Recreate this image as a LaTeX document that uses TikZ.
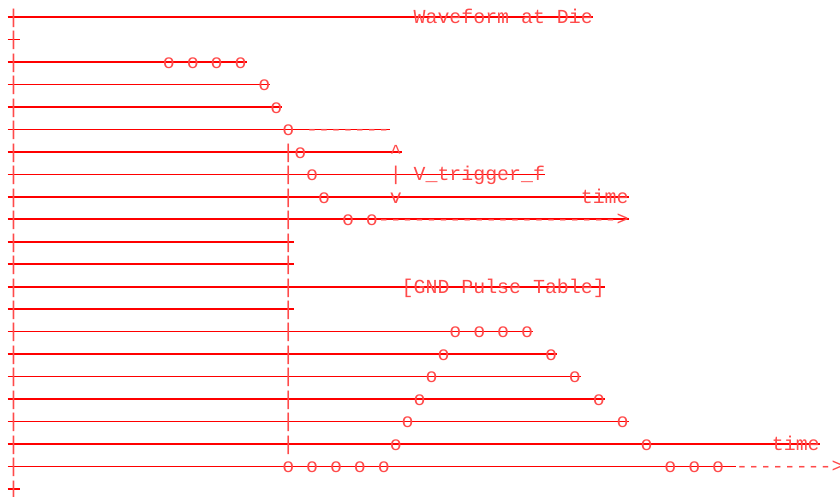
\documentclass[tikz,border=0pt]{standalone}
\usepackage{fontspec}
\setmonofont{Liberation Mono}
\definecolor{Wire}{HTML}{FF0000}
\definecolor{GlyphInk}{HTML}{FF4A4A}
\newcommand{\asciisize}{\ttfamily\fontsize{19.9pt}{22pt}\selectfont}

\begin{document}
\begin{tikzpicture}[x=11.94pt,y=-22.476pt,every node/.style={font=\asciisize,text=GlyphInk,inner sep=0pt,outer sep=0pt,anchor=base west,yshift=-6.3pt},rowline/.style={draw=Wire,line width=1.6pt}]
\useasboundingbox (-7.7pt,17pt) rectangle (832.3pt,-480pt);

\foreach \r/\len in {0/49,1/1,2/20,3/22,4/23,5/32,6/33,7/45,8/52,9/52,10/24,11/24,12/50,13/24,14/44,15/46,16/48,17/50,18/52,19/68,20/61,21/1} \draw[rowline] (0,\r) -- (\len,\r);
\foreach \r in {0,...,21} \node (edge\r) at (0,\r) {|};
\foreach \r in {6,...,19} \node (mark\r) at (23,\r) {|};
\foreach \c/\r in {13/2,15/2,17/2,19/2,21/3,22/4,23/5,24/6,25/7,26/8,28/9,30/9,37/14,39/14,41/14,43/14,36/15,45/15,35/16,47/16,34/17,49/17,33/18,51/18,32/19,53/19,23/20,25/20,27/20,29/20,31/20,55/20,57/20,59/20} \node (dot\c-\r) at (\c,\r) {o};

\node (title) at (34,0) {Waveform at Die};
\node (level) at (25,5) {-------}; \node (up) at (32,6) {\textasciicircum}; \node (span) at (32,7) {|}; \node (down) at (32,8) {v};
\node (trig) at (34,7) {V\_trigger\_f}; \node (timea) at (48,8) {time}; \node (axisa) at (31,9) {-------------------->};
\node (table) at (33,12) {[GND Pulse Table]};
\node (timeb) at (64,19) {time}; \node (axisb) at (61,20) {-------->};

\end{tikzpicture}
\end{document}
